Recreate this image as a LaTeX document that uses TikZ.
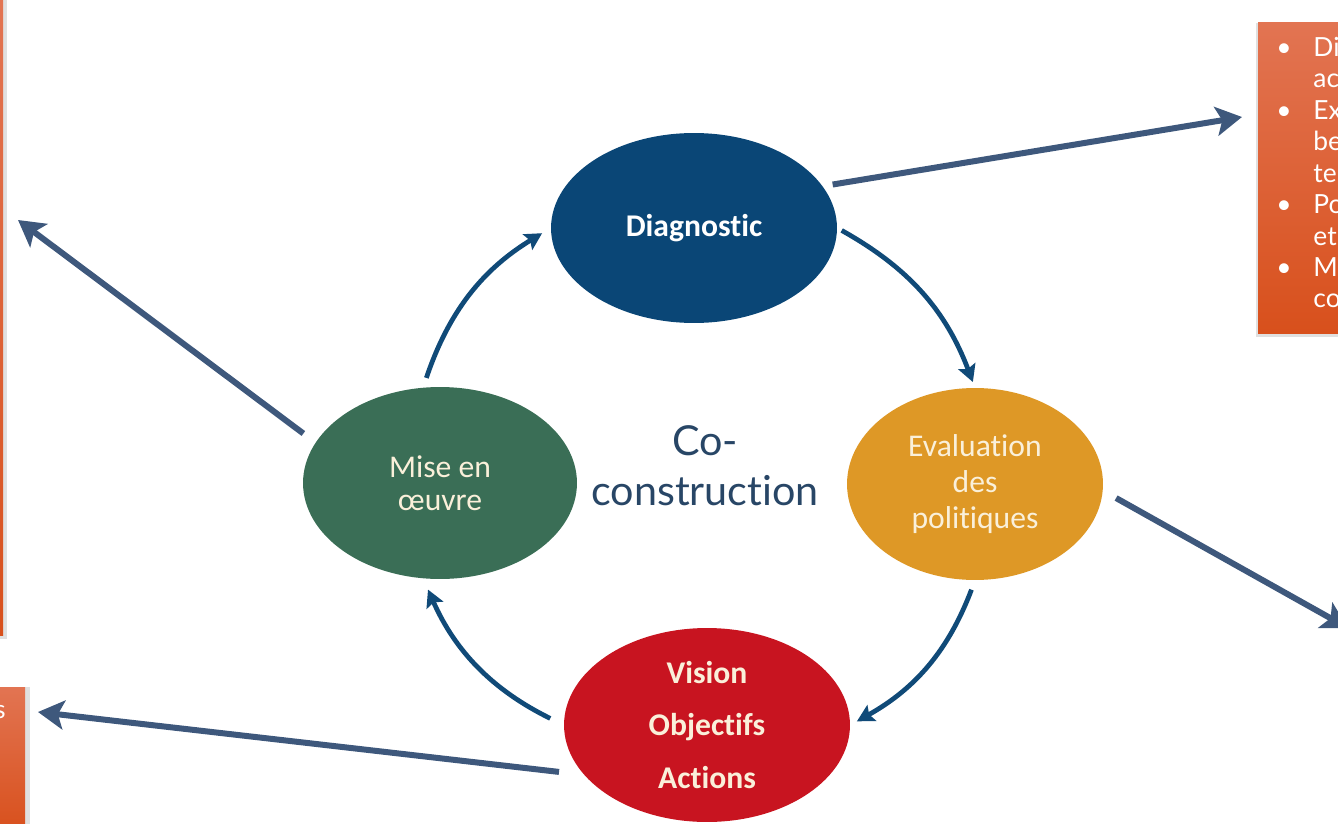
\documentclass[tikz,border=0pt]{standalone}
\usepackage{fontspec}
\setmainfont{Lato}[Ligatures=NoCommon]
\newfontfamily\calfont{Carlito}[Ligatures=NoCommon]
\usetikzlibrary{arrows.meta,shapes.geometric}
\definecolor{diagblue}{RGB}{10,70,118}
\definecolor{evalgold}{RGB}{222,152,38}
\definecolor{visionred}{RGB}{200,20,32}
\definecolor{misegreen}{RGB}{58,110,86}
\definecolor{cream}{RGB}{250,240,218}
\definecolor{cycblue}{RGB}{16,74,120}
\definecolor{linkslate}{RGB}{62,88,124}
\definecolor{titleslate}{RGB}{40,70,102}
\definecolor{boxtop}{RGB}{226,116,82}
\definecolor{boxbot}{RGB}{216,80,28}

\begin{document}
\begin{tikzpicture}[x=0.02cm,y=0.02cm,line cap=round,line join=round,
  bubble/.style={ellipse,inner sep=0pt,align=center,text=cream,font=\calfont\fontsize{18}{20.4}\selectfont},
  cyc/.style={draw=cycblue,line width=0.095cm,line cap=butt,-{Stealth[length=0.34cm,width=0.36cm,inset=0.06cm]}},
  link/.style={draw=linkslate,line width=0.12cm,line cap=butt,-{Stealth[length=0.52cm,width=0.58cm,inset=0.12cm]}},
  slidebox/.style={top color=boxtop,bottom color=boxbot,draw=none},
  boxshadow/.style={fill=black!12,draw=none}]
  \useasboundingbox (0,0) rectangle (1338,823);
  \clip (0,0) rectangle (1338,823);

  % orange boxes of the slide
  \fill[boxshadow] (-200,184) rectangle (7,823);
  \shade[slidebox] (-200,188) rectangle (3,823);
  \fill[boxshadow] (-200,-10) rectangle (30,136);
  \shade[slidebox] (-200,-10) rectangle (25,136);
  \fill[boxshadow] (1256,486) rectangle (1400,800);
  \shade[slidebox] (1258,490) rectangle (1400,800);
  \node[anchor=base east,text=white,inner sep=0pt,font=\fontsize{14.5}{17.9}\selectfont] (lbtext) at (6,105) {s};
  \node[anchor=north west,text=white,inner sep=0pt,font=\fontsize{15}{17.9}\selectfont] (rbtext) at (1276,789)
    {\begin{tabular}{@{}p{0.32cm}l@{}}
      \textbullet & Di\\ & ac\\
      \textbullet & Ex\\ & be\\ & te\\
      \textbullet & Po\\ & et\\
      \textbullet & M\\ & co
    \end{tabular}};

  % cycle
  \node[bubble,fill=diagblue,minimum width=5.72cm,minimum height=3.8cm,font=\calfont\bfseries\fontsize{18}{20}\selectfont,text=white] (diag) at (694,595) {Diagnostic};
  \node[bubble,fill=evalgold,minimum width=5.12cm,minimum height=3.84cm] (eval) at (975,339) {Evaluation\\des\\politiques};
  \node[bubble,fill=visionred,minimum width=5.72cm,minimum height=3.88cm,font=\calfont\bfseries\fontsize{18}{30}\selectfont] (vision) at (707,98) {Vision\\Objectifs\\Actions};
  \node[bubble,fill=misegreen,minimum width=5.48cm,minimum height=3.84cm,font=\calfont\fontsize{18}{18.7}\selectfont] (mise) at (440,340) {Mise en\\œuvre};
  \node[align=center,text=titleslate,font=\fontsize{23.5}{28.4}\selectfont] (coco) at (705,357) {Co-\\construction};

  \draw[cyc,shorten <=0.1cm,shorten >=0.12cm] (diag.east) to[bend left=20] (eval.north);
  \draw[cyc,shorten <=0.2cm,shorten >=0.15cm] (eval.south) to[bend left=20] (vision.east);
  \draw[cyc,shorten <=0.3cm,shorten >=0.24cm] (vision.west) to[bend left=20] (mise.-100);
  \draw[cyc,shorten <=0.2cm,shorten >=0.2cm] (mise.100) to[bend left=20] (diag.west);

  % links to the boxes
  \coordinate (tipR) at (1242,706);
  \coordinate (tipL) at (18,603);
  \coordinate (tipE) at (1348,195);
  \coordinate (tipV) at (38,111);
  \draw[link,shorten <=0.2cm] (diag.18) -- (tipR);
  \draw[link,shorten <=0.3cm] (mise.162) -- (tipL);
  \draw[link,shorten <=0.3cm] (eval.-3) -- (tipE);
  \draw[link,shorten <=0.5cm] (vision.-158) -- (tipV);
\end{tikzpicture}
\end{document}
